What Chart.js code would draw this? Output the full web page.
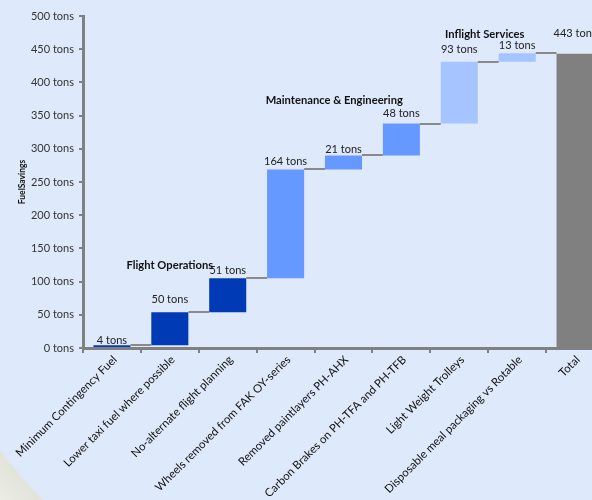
<!DOCTYPE html>
<html><head><meta charset="utf-8">
<script src="https://cdn.jsdelivr.net/npm/chart.js@4.4.1/dist/chart.umd.min.js"></script>
<style>
html,body{margin:0;padding:0;width:592px;height:500px;overflow:hidden;}
body{background: radial-gradient(circle at 400px 150px, #dfe9fc 0, #dfe9fc 498px, #e2e4da 502px, #eceee6 100%);}
#wrap{position:absolute;left:0;top:0;width:604px;height:500px;}
</style></head><body>
<div id="wrap"><canvas id="c" width="604" height="500"></canvas></div>
<script>
const categories = ['Minimum Contingency Fuel','Lower taxi fuel where possible','No-alternate flight planning','Wheels removed from FAK OY-series','Removed paintlayers PH-AHX','Carbon Brakes on PH-TFA and PH-TFB','Light Weight Trolleys','Disposable meal packaging vs Rotable','Total'];
const savings = [4, 50, 51, 164, 21, 48, 93, 13];
const totalSaving = 443;
const groupOf = ['Flight Operations','Flight Operations','Flight Operations','Maintenance & Engineering','Maintenance & Engineering','Maintenance & Engineering','Inflight Services','Inflight Services','Total'];
const yTicks = [0, 50, 100, 150, 200, 250, 300, 350, 400, 450, 500];
const groupNames = ['Flight Operations','Maintenance & Engineering','Inflight Services'];
const groupAnchorCat = [1, 3.84, 6.44];
const groupAnchorVal = [125, 373, 473];

const groupColors = {'Flight Operations':'#003ab5','Maintenance & Engineering':'#6699ff','Inflight Services':'#a6c4ff','Total':'#808080'};
const labelGap = [5, 13, 8, 8, 6, 10, 12, 8, 20];

// floating bars for waterfall
const floating = [];
const cumEnds = [];
let run = 0;
savings.forEach(v => { floating.push([run, run + v]); run += v; cumEnds.push(run); });
floating.push([0, totalSaving]);
const allValues = savings.concat([totalSaving]);

const waterfallPlugin = {
  id: 'waterfall',
  afterDatasetsDraw(chart) {
    const ctx = chart.ctx;
    const meta = chart.getDatasetMeta(0);
    const ys = chart.scales.y, xs = chart.scales.x;
    ctx.save();
    // connectors
    ctx.strokeStyle = '#8a8a8a';
    ctx.lineWidth = 2;
    for (let i = 0; i < meta.data.length - 1; i++) {
      const a = meta.data[i], b = meta.data[i + 1];
      const y = Math.round(ys.getPixelForValue(cumEnds[i]));
      ctx.beginPath();
      ctx.moveTo(a.x + a.width / 2, y);
      ctx.lineTo(b.x - b.width / 2, y);
      ctx.stroke();
    }
    // value labels
    ctx.fillStyle = '#222';
    ctx.font = '11px Lato';
    ctx.textAlign = 'center';
    ctx.textBaseline = 'middle';
    meta.data.forEach((el, i) => {
      ctx.fillText(allValues[i] + ' tons', el.x, el.y - labelGap[i]);
    });
    // group labels
    ctx.fillStyle = '#111';
    ctx.font = 'bold 11.2px Lato';
    groupNames.forEach((g, i) => {
      ctx.fillText(g, xs.getPixelForValue(groupAnchorCat[i]), ys.getPixelForValue(groupAnchorVal[i]));
    });
    ctx.restore();
  }
};

new Chart(document.getElementById('c'), {
  type: 'bar',
  data: {
    labels: categories,
    datasets: [{
      data: floating,
      backgroundColor: groupOf.map(g => groupColors[g]),
      borderWidth: 0,
      barPercentage: 0.64,
      categoryPercentage: 1.0
    }]
  },
  options: {
    responsive: false,
    animation: false,
    layout: { padding: { top: 16, right: 0, left: 0, bottom: 0 } },
    plugins: { legend: { display: false }, tooltip: { enabled: false } },
    scales: {
      x: {
        grid: { drawOnChartArea: false, drawTicks: true, tickLength: 5, color: '#808080', lineWidth: 2, offset: true },
        border: { color: '#808080', width: 3 },
        ticks: { color: '#111', font: { family: 'Lato', size: 11.4 }, maxRotation: 45, minRotation: 45, padding: 0, labelOffset: 3, autoSkip: false },
        afterFit(s) { s.height = 152; }
      },
      y: {
        min: 0, max: 500,
        afterBuildTicks(s) { s.ticks = yTicks.map(v => ({ value: v })); },
        grid: { drawOnChartArea: false, drawTicks: true, tickLength: 4, color: '#808080', lineWidth: 2 },
        border: { color: '#808080', width: 3 },
        ticks: { color: '#333', font: { family: 'Lato', size: 11 }, padding: 5, callback: v => v + ' tons' },
        title: { display: true, text: 'FuelSavings', color: '#111', font: { family: 'Lato', size: 8.5, weight: 'bold' }, padding: { top: 17, bottom: 0 } },
        afterFit(s) { s.width = 83; }
      }
    }
  },
  plugins: [waterfallPlugin]
});
</script>
</body></html>
